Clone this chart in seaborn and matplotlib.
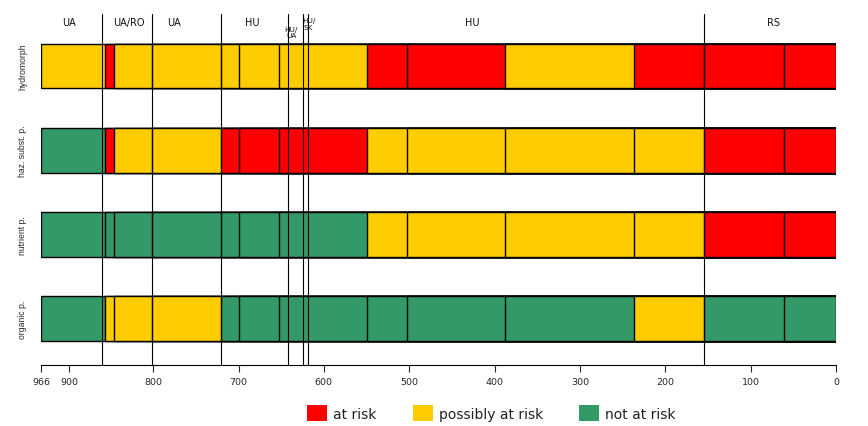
import numpy as np
import pandas as pd
import matplotlib.pyplot as plt
from matplotlib.patches import Patch
import seaborn as sns

# pressures (rows) and river-km sections from source (966) to mouth (0)
rows = ["hydromorph", "haz. subst. p.", "nutrient p.", "organic p."]
section_start = [966, 856, 846, 801, 720, 700, 652, 550, 502, 388, 236, 155, 61]

# r = at risk, p = possibly at risk, n = not at risk
hydromorph = ["p", "r", "p", "p", "p", "p", "p", "r", "r", "p", "r", "r", "r"]
haz_subst = ["n", "r", "p", "p", "r", "r", "r", "p", "p", "p", "p", "r", "r"]
nutrient = ["n", "n", "n", "n", "n", "n", "n", "p", "p", "p", "p", "r", "r"]
organic = ["n", "p", "p", "p", "n", "n", "n", "n", "n", "n", "p", "n", "n"]

# country borders and names along the river
border_km = [860, 801, 720, 642, 624, 619, 155]
country_names = ["UA", "UA/RO", "UA", "HU", "HU", "RS"]
country_km = [900, 829, 776, 684, 426, 73]
small_names = ["HU/\nUA", "HU/\nSK"]
small_km = [638, 618]

xticks = [966, 900, 800, 700, 600, 500, 400, 300, 200, 100, 0]

status_names = {"r": "at risk", "p": "possibly at risk", "n": "not at risk"}
status_colors = {"at risk": "#ff0000", "possibly at risk": "#ffcc00", "not at risk": "#339966"}
status = dict(zip(rows, [hydromorph, haz_subst, nutrient, organic]))


# the upper reach (above km 900) is squeezed on the original axis
def squeeze(k):
    k = np.asarray(k, dtype=float)
    return np.where(k > 897, 897 + (k - 897) * 0.5, k)


def unsqueeze(f):
    f = np.asarray(f, dtype=float)
    return np.where(f > 897, 897 + (f - 897) / 0.5, f)


sns.set_style("white")
fig, ax = plt.subplots(figsize=(8.68, 4.27), dpi=100)
fig.subplots_adjust(left=0.0472, right=0.963, bottom=0.1429, top=0.9649)

# overlay bars from 0 to each section start, longest first
for j, start in enumerate(section_start):
    seg = pd.DataFrame({"pressure": rows, "km": [start] * len(rows)})
    pal = {r: status_colors[status_names[status[r][j]]] for r in rows}
    sns.barplot(data=seg, x="km", y="pressure", hue="pressure", palette=pal,
                orient="h", width=0.53, saturation=1, edgecolor="black",
                linewidth=1.0, errorbar=None, legend=False, ax=ax)

ax.set_xscale("function", functions=(squeeze, unsqueeze))
ax.set_xlim(966, 0)
ax.set_ylim(3.55, -0.62)
ax.set(xlabel="", ylabel="")

for km in border_km:
    ax.axvline(km, color="black", lw=0.8, zorder=5)

tr = ax.get_xaxis_transform()
for name, km in zip(country_names, country_km):
    ax.text(km, 0.978, name, transform=tr, ha="center", va="center", fontsize=7, color="#111")
ax.text(small_km[0], 0.949, small_names[0], transform=tr, ha="center", va="center",
        fontsize=5.3, linespacing=1.15, color="#111")
ax.text(small_km[1], 0.972, small_names[1], transform=tr, ha="center", va="center",
        fontsize=5.3, linespacing=1.15, color="#111")

ax.set_xticks(xticks, labels=[str(t) for t in xticks])
ax.tick_params(axis="x", length=5, width=0.8, pad=3.5, labelsize=6.8, bottom=True)
ax.set_yticks(range(len(rows)))
ax.set_yticklabels(rows, rotation=90, va="center", fontsize=6.2, family="Liberation Sans")
ax.tick_params(axis="y", length=0, pad=10)

sns.despine(ax=ax, left=True)
ax.spines["bottom"].set_linewidth(0.8)
ax.spines["bottom"].set_color("black")

handles = [Patch(facecolor=c, edgecolor="none") for c in status_colors.values()]
fig.legend(handles, list(status_colors.keys()), loc="center", bbox_to_anchor=(0.566, 0.03),
           ncol=3, frameon=False, fontsize=10, handlelength=1.44, handleheight=1.37,
           handletextpad=0.43, columnspacing=2.6, labelcolor="#222")

fig.savefig("out.png", dpi=100)
